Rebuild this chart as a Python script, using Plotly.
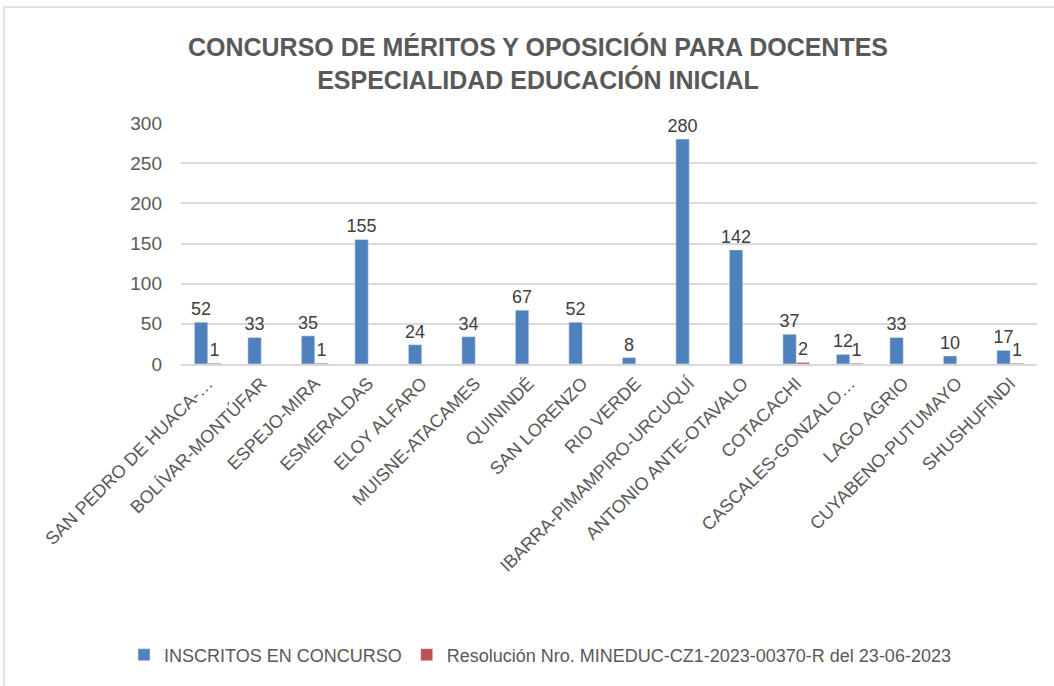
import plotly.graph_objects as go

# data
categorias = [
    'SAN PEDRO DE HUACA-…', 'BOLÍVAR-MONTÚFAR', 'ESPEJO-MIRA', 'ESMERALDAS',
    'ELOY ALFARO', 'MUISNE-ATACAMES', 'QUININDÉ', 'SAN LORENZO', 'RIO VERDE',
    'IBARRA-PIMAMPIRO-URCUQUÍ', 'ANTONIO ANTE-OTAVALO', 'COTACACHI',
    'CASCALES-GONZALO…', 'LAGO AGRIO', 'CUYABENO-PUTUMAYO', 'SHUSHUFINDI'
]
inscritos = [52, 33, 35, 155, 24, 34, 67, 52, 8, 280, 142, 37, 12, 33, 10, 17]
resolucion = [1, None, 1, None, None, None, None, None, None, None, None, 2, 1, None, None, 1]

W, H = 1054, 686
ml, mr, mt, mb = 181, 17, 123, 322
pw = W - ml - mr
ph = H - mt - mb

fuente = 'Liberation Sans, Arial, sans-serif'
gris = '#595959'

fig = go.Figure()
fig.add_trace(go.Bar(
    x=categorias, y=inscritos, name='INSCRITOS EN CONCURSO',
    marker=dict(color='#4f81bd'),
    text=inscritos, textposition='outside', cliponaxis=False,
    constraintext='none',
    textfont=dict(size=18, color='#404040', family=fuente),
))
fig.add_trace(go.Bar(
    x=categorias, y=resolucion,
    name='Resolución Nro. MINEDUC-CZ1-2023-00370-R del 23-06-2023',
    marker=dict(color='#c0504d'),
    text=[v if v is not None else '' for v in resolucion],
    textposition='outside', cliponaxis=False, constraintext='none',
    textfont=dict(size=18, color='#404040', family=fuente),
))

# borde del area del grafico
fig.add_shape(
    type='rect', xref='paper', yref='paper',
    x0=(4 - ml) / pw, x1=(W + 5 - ml) / pw,
    y0=-(H + 5 - mt - ph) / ph, y1=(mt - 7) / ph + 1,
    line=dict(color='#d9d9d9', width=1.5), layer='below',
)

fig.update_layout(
    width=W, height=H,
    paper_bgcolor='white', plot_bgcolor='white',
    font=dict(family=fuente, color=gris),
    title=dict(
        text='<b>CONCURSO DE MÉRITOS Y OPOSICIÓN PARA DOCENTES<br>ESPECIALIDAD EDUCACIÓN INICIAL</b>',
        x=538 / W, xanchor='center', y=1 - 56 / H, yanchor='middle',
        font=dict(size=25, color=gris, family=fuente),
    ),
    barmode='group', bargap=0.5, bargroupgap=0,
    margin=dict(l=ml, r=mr, t=mt, b=mb, pad=0, autoexpand=False),
    showlegend=True,
    legend=dict(
        orientation='h', x=(540 - ml) / pw, xanchor='center',
        y=(mt + ph - 655) / ph, yanchor='middle',
        font=dict(size=18, color=gris, family=fuente),
        itemwidth=30, tracegroupgap=0,
    ),
    xaxis=dict(
        tickangle=-45, tickfont=dict(size=18, color=gris, family=fuente),
        showline=True, linecolor='#d9d9d9', linewidth=1.5, ticks='',
    ),
    yaxis=dict(
        range=[0, 300], dtick=50,
        tickfont=dict(size=19, color=gris, family=fuente),
        gridcolor='#d9d9d9', gridwidth=1.5, zeroline=False,
        ticks='', ticklen=0, ticklabelstandoff=18,
    ),
)

fig.write_html('out.html', config={'displayModeBar': False},
               post_script="document.body.style.margin='0';")
